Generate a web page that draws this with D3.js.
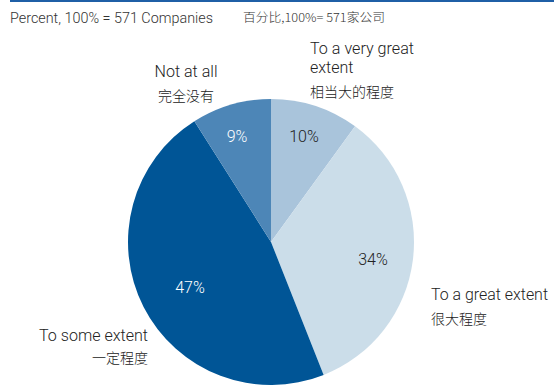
<!DOCTYPE html>
<html><head><meta charset="utf-8">
<script src="https://cdn.jsdelivr.net/npm/d3@7"></script>
<style>body{margin:0;background:#fff}svg{display:block}</style>
</head><body>
<svg id="c" width="554" height="385"></svg>
<script>
const categories = ["To a very great extent", "To a great extent", "To some extent", "Not at all"];
const categoriesZh = ["相当大的程度", "很大程度", "一定程度", "完全没有"];
const values = [10, 34, 47, 9];
const valueLabels = ["10%", "34%", "47%", "9%"];
const colors = ["#a9c4db", "#cbdde9", "#005596", "#4d86b7"];
const labelColors = ["#222", "#222", "#fff", "#fff"];

const svg = d3.select("#c");
const en = "Roboto, 'Liberation Sans', Arial, sans-serif";
const zh = "'Noto Sans CJK SC', sans-serif";
const W = 300;

svg.append("rect").attr("x", 10).attr("y", 0).attr("width", 544).attr("height", 2).attr("fill", "#1f5fa6");

svg.append("text").attr("x", 10).attr("y", 23).attr("font-family", en).attr("font-size", 14).attr("font-weight", W)
  .attr("fill", "#333").attr("textLength", 203).attr("lengthAdjust", "spacingAndGlyphs")
  .text("Percent, 100% = 571 Companies");
svg.append("text").attr("x", 243).attr("y", 22).attr("font-family", zh).attr("font-size", 12).attr("font-weight", W)
  .attr("fill", "#333").attr("textLength", 142).attr("lengthAdjust", "spacingAndGlyphs").text("百分比,100%= 571家公司");

const cx = 271, cy = 242, r = 143;
const pie = d3.pie().sort(null).startAngle(0).endAngle(2 * Math.PI);
const arcs = pie(values);
const arc = d3.arc().innerRadius(0).outerRadius(r);
const g = svg.append("g").attr("transform", `translate(${cx},${cy})`);
g.selectAll("path").data(arcs).join("path").attr("d", arc).attr("fill", (d, i) => colors[i]);

// value labels inside slices
const vpos = [[304, 142], [373, 265], [190, 293], [237, 142]];
svg.selectAll("text.v").data(arcs).join("text").attr("class", "v")
  .attr("x", (d, i) => vpos[i][0]).attr("y", (d, i) => vpos[i][1])
  .attr("text-anchor", "middle").attr("font-family", en).attr("font-size", 16).attr("font-weight", W)
  .attr("fill", (d, i) => labelColors[i]).text((d, i) => valueLabels[i]);

// category labels
function label(lines, x, anchor, ys, widths) {
  lines.forEach((t, k) => {
    const isZh = /[\u4e00-\u9fff]/.test(t);
    const el = svg.append("text").attr("x", x).attr("y", ys[k]).attr("text-anchor", anchor)
      .attr("font-family", isZh ? zh : en).attr("font-size", isZh ? 14 : 16).attr("font-weight", W)
      .attr("fill", "#222").text(t);
    if (widths && widths[k]) el.attr("textLength", widths[k]).attr("lengthAdjust", "spacingAndGlyphs");
  });
}
label(["To a very great", "extent", categoriesZh[0]], 310, "start", [54, 73, 97], [104, 0, 0]);
label([categories[1], categoriesZh[1]], 431, "start", [300, 324], [117, 0]);
label([categories[2], categoriesZh[2]], 148, "end", [341, 363], [109, 0]);
label([categories[3], categoriesZh[3]], 186, "middle", [77, 101], [63, 0]);
</script>
</body></html>
